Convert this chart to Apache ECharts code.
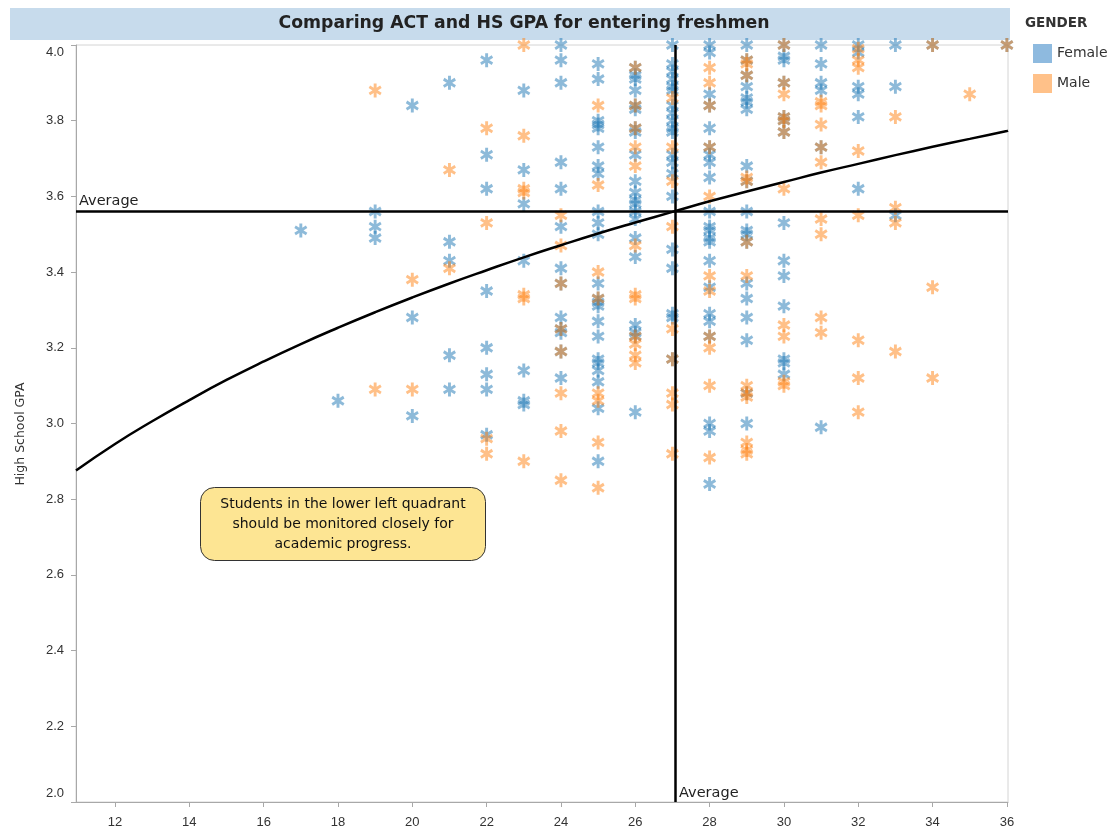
<!DOCTYPE html>
<html><head><meta charset="utf-8">
<script src="https://cdn.jsdelivr.net/npm/echarts@6/dist/echarts.min.js"></script>
<style>html,body{margin:0;padding:0;background:#fff}#c{width:1115px;height:831px}</style>
</head><body><div id="c"></div>
<script>
const chartTitle = 'Comparing ACT and HS GPA for entering freshmen';
const legendTitle = 'GENDER';
const genders = ['Female', 'Male'];
const yName = 'High School GPA';
const note = 'Students in the lower left quadrant\nshould be monitored closely for\nacademic progress.';

// [ACT, HS GPA]
const female = [
 [17,3.51],[18,3.06],
 [19,3.56],[19,3.52],[19,3.49],
 [20,3.84],[20,3.28],[20,3.02],
 [21,3.90],[21,3.48],[21,3.43],[21,3.18],[21,3.09],
 [22,3.96],[22,3.71],[22,3.62],[22,3.35],[22,3.20],[22,3.13],[22,3.09],[22,2.97],
 [23,3.88],[23,3.67],[23,3.58],[23,3.43],[23,3.14],[23,3.06],[23,3.05],
 [24,4.00],[24,3.96],[24,3.90],[24,3.69],[24,3.62],[24,3.52],[24,3.41],[24,3.37],[24,3.28],[24,3.25],[24,3.24],[24,3.19],[24,3.12],
 [25,3.95],[25,3.91],[25,3.80],[25,3.79],[25,3.78],[25,3.73],[25,3.68],[25,3.66],[25,3.56],[25,3.53],[25,3.50],[25,3.37],[25,3.33],[25,3.32],[25,3.31],[25,3.27],[25,3.23],[25,3.17],[25,3.16],[25,3.14],[25,3.11],[25,3.04],[25,2.90],
 [26,3.94],[26,3.92],[26,3.91],[26,3.88],[26,3.84],[26,3.83],[26,3.78],[26,3.77],[26,3.71],[26,3.64],[26,3.61],[26,3.59],[26,3.58],[26,3.56],[26,3.54],[26,3.49],[26,3.44],[26,3.26],[26,3.24],[26,3.23],[26,3.03],
 [27,4.00],[27,3.95],[27,3.93],[27,3.91],[27,3.89],[27,3.88],[27,3.84],[27,3.82],[27,3.80],[27,3.78],[27,3.77],[27,3.71],[27,3.69],[27,3.66],[27,3.60],[27,3.46],[27,3.41],[27,3.29],[27,3.28],[27,3.17],
 [28,4.00],[28,3.98],[28,3.87],[28,3.84],[28,3.78],[28,3.73],[28,3.71],[28,3.69],[28,3.65],[28,3.56],[28,3.52],[28,3.51],[28,3.49],[28,3.48],[28,3.43],[28,3.36],[28,3.29],[28,3.27],[28,3.23],[28,3.00],[28,2.98],[28,2.84],
 [29,4.00],[29,3.96],[29,3.92],[29,3.89],[29,3.86],[29,3.85],[29,3.83],[29,3.68],[29,3.64],[29,3.56],[29,3.51],[29,3.50],[29,3.48],[29,3.37],[29,3.33],[29,3.28],[29,3.22],[29,3.08],[29,3.00],
 [30,4.00],[30,3.97],[30,3.96],[30,3.90],[30,3.81],[30,3.80],[30,3.77],[30,3.53],[30,3.43],[30,3.39],[30,3.31],[30,3.17],[30,3.16],[30,3.13],
 [31,4.00],[31,3.95],[31,3.90],[31,3.88],[31,3.73],[31,2.99],
 [32,4.00],[32,3.98],[32,3.89],[32,3.87],[32,3.81],[32,3.62],
 [33,4.00],[33,3.89],[33,3.55],
 [34,4.00],[36,4.00]
];
const male = [
 [19,3.88],[19,3.09],
 [20,3.38],[20,3.09],
 [21,3.67],[21,3.41],
 [22,3.78],[22,3.53],[22,2.96],[22,2.92],
 [23,4.00],[23,3.76],[23,3.62],[23,3.61],[23,3.34],[23,3.33],[23,2.90],
 [24,3.55],[24,3.47],[24,3.37],[24,3.25],[24,3.19],[24,3.08],[24,2.98],[24,2.85],
 [25,3.84],[25,3.63],[25,3.40],[25,3.33],[25,3.08],[25,3.06],[25,2.95],[25,2.83],
 [26,3.94],[26,3.84],[26,3.78],[26,3.73],[26,3.68],[26,3.47],[26,3.34],[26,3.33],[26,3.23],[26,3.21],[26,3.18],[26,3.16],
 [27,3.86],[27,3.73],[27,3.64],[27,3.52],[27,3.25],[27,3.17],[27,3.08],[27,3.05],[27,2.92],
 [28,3.94],[28,3.90],[28,3.84],[28,3.73],[28,3.60],[28,3.39],[28,3.35],[28,3.23],[28,3.20],[28,3.10],[28,2.91],
 [29,3.96],[29,3.95],[29,3.92],[29,3.65],[29,3.64],[29,3.48],[29,3.39],[29,3.10],[29,3.08],[29,3.07],[29,2.95],[29,2.93],[29,2.92],
 [30,4.00],[30,3.90],[30,3.87],[30,3.81],[30,3.80],[30,3.77],[30,3.62],[30,3.26],[30,3.23],[30,3.11],[30,3.10],
 [31,3.85],[31,3.84],[31,3.79],[31,3.73],[31,3.69],[31,3.54],[31,3.50],[31,3.28],[31,3.24],
 [32,3.99],[32,3.96],[32,3.94],[32,3.72],[32,3.55],[32,3.22],[32,3.12],[32,3.03],
 [33,3.81],[33,3.57],[33,3.53],[33,3.19],
 [34,4.00],[34,3.36],[34,3.12],
 [35,3.87],[36,4.00]
];

// logarithmic trend line
const trendACT = [10.95,12,13,14,15,16,17,18,19,20,21,22,23,24,25,26,27,28,29,30,31,32,33,34,35,36,36.03];
const trendGPA = [2.876,2.946,3.006,3.062,3.115,3.164,3.210,3.253,3.294,3.333,3.370,3.405,3.439,3.471,3.502,3.531,3.559,3.587,3.613,3.638,3.663,3.686,3.709,3.731,3.752,3.773,3.774];

const avgACT = 27.07;
const avgGPA = 3.557;

const xMin = 10.95, xMax = 36.03;
const yMin = 2.0, yMax = 4.0, yStep = 0.2;

const colors = ['rgba(31,119,180,0.64)', 'rgba(255,127,14,0.62)'];
const legendColors = ['#72a9d7', '#ffb26b'];
const star = 'path://M5.5 0L8.5 0L8.5 14L5.5 14Z M12.2 2.0L13.7 4.6L1.8 11.9L0.3 9.4Z M0.3 4.6L1.8 2.0L13.7 9.4L12.2 11.9Z';
const FONT = '"Liberation Sans", Arial, sans-serif';
const FONT2 = '"DejaVu Sans", Verdana, sans-serif';

const chart = echarts.init(document.getElementById('c'), null, {renderer: 'canvas'});

function scatter(name, data, i) {
  return {
    name, type: 'scatter', data, symbol: star, symbolSize: [13, 14],
    itemStyle: {color: colors[i]}, clip: true, z: 3,
    emphasis: {disabled: true}
  };
}

const near = (a, b) => Math.abs(a - b) < 1e-6;

chart.setOption({
  animation: false,
  textStyle: {fontFamily: FONT},
  grid: {left: 76, right: 107, top: 45, bottom: 29, show: true, borderColor: '#d4d4d4', borderWidth: 1},
  graphic: [
    {type: 'rect', shape: {x: 10, y: 8, width: 1000, height: 32}, style: {fill: '#c7dbec'}, z: -1},
    {type: 'text', style: {text: chartTitle, x: 524, y: 24, align: 'center', verticalAlign: 'middle',
      font: 'bold 17.3px ' + FONT2, fill: '#222'}},
    {type: 'text', style: {text: legendTitle, x: 1025, y: 23, verticalAlign: 'middle',
      font: 'bold 13.5px ' + FONT2, fill: '#333'}},
    {type: 'text', rotation: Math.PI / 2, x: 21, y: 434,
      style: {text: yName, align: 'center', verticalAlign: 'middle', font: '12.5px ' + FONT2, fill: '#333'}},
    {type: 'group', left: 200, top: 487, children: [
      {type: 'rect', shape: {x: 0, y: 0, width: 285, height: 73, r: 14},
        style: {fill: '#fde593', stroke: '#333', lineWidth: 1}},
      {type: 'text', style: {text: note, x: 142.5, y: 37, align: 'center', verticalAlign: 'middle',
        font: '14px ' + FONT2, lineHeight: 20, fill: '#111'}}
    ]}
  ],
  legend: {
    orient: 'vertical', left: 1028, top: 39, itemWidth: 19, itemHeight: 19, itemGap: 11,
    icon: 'rect', selectedMode: false,
    textStyle: {fontSize: 14, color: '#333', fontFamily: FONT2},
    data: genders.map((g, i) => ({name: g, itemStyle: {color: legendColors[i]}}))
  },
  xAxis: {
    type: 'value', min: xMin, max: xMax, splitNumber: 12,
    splitLine: {show: false},
    axisLine: {show: true, onZero: false, lineStyle: {color: '#a8a8a8'}},
    axisTick: {show: true, length: 5, lineStyle: {color: '#a8a8a8'}},
    axisLabel: {fontSize: 13, color: '#333', margin: 14, showMinLabel: false, showMaxLabel: false,
      formatter: v => (near(v, Math.round(v)) ? String(Math.round(v)) : '')}
  },
  yAxis: {
    type: 'value', min: yMin, max: yMax, interval: yStep,
    splitLine: {show: false},
    axisLine: {show: true, onZero: false, lineStyle: {color: '#a8a8a8'}},
    axisTick: {show: true, length: 5, lineStyle: {color: '#a8a8a8'}},
    axisLabel: {fontSize: 13, color: '#333', margin: 12,
      formatter: v => near(v, yMax) ? '{t|' + v.toFixed(1) + '}' : near(v, yMin) ? '{b|' + v.toFixed(1) + '}' : v.toFixed(1),
      rich: {
        t: {fontSize: 13, color: '#333', padding: [14, 0, 0, 0]},
        b: {fontSize: 13, color: '#333', padding: [0, 0, 18, 0]}
      }}
  },
  series: [
    scatter(genders[0], female, 0),
    scatter(genders[1], male, 1),
    {
      name: 'trend', type: 'line', smooth: true, showSymbol: false, symbol: 'none',
      data: trendACT.map((a, i) => [a, trendGPA[i]]),
      lineStyle: {color: '#000', width: 2.5}, z: 4, silent: true,
      markLine: {
        silent: true, symbol: 'none',
        lineStyle: {color: '#000', width: 2.5, type: 'solid'},
        label: {show: true, formatter: 'Average', color: '#222', fontSize: 14.5, fontFamily: FONT2},
        data: [
          {yAxis: avgGPA, label: {position: 'insideStartTop', distance: [3, 3]}},
          {xAxis: avgACT, label: {show: false}}
        ]
      },
      markPoint: {
        silent: true, symbol: 'circle', symbolSize: 0,
        data: [{coord: [avgACT, yMin], label: {show: true, formatter: 'Average', position: 'right',
          distance: 4, offset: [0, -9], color: '#222', fontSize: 14.5, fontFamily: FONT2}}]
      }
    }
  ]
});
</script></body></html>
